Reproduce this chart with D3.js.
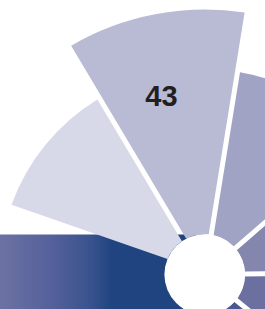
<!DOCTYPE html>
<html><head><meta charset="utf-8">
<script src="https://cdn.jsdelivr.net/npm/d3@7"></script>
<style>html,body{margin:0;padding:0;background:#fff;overflow:hidden}svg{display:block}</style>
</head><body>
<svg id="c" width="265" height="309"></svg>
<script>
// Data (visible sectors of a radial bar chart, clockwise from the top-right)
const categories = ["S1", "S2", "S3", "S4", "S5", "S6", "S7", "S8", "S9"];
const slotOrder  = ["S3", "S4", "S5", "S6", "S7", "S8", "S9", "S1", "S2"]; // clockwise starting just past 12 o'clock
const values     = [31.6, 43, 31.6, 40, 40, 40];          // S1..S6 (S4-S6 extend beyond the frame)
const shown      = ["S1", "S2", "S3", "S4", "S5", "S6"];
const colors     = ["#d8d9e8", "#b9bad3", "#a0a3c3", "#8586ae", "#6b70a0", "#4b5792"];
const labels     = ["", "43", "", "", "", ""];

const W = 265, H = 309;
const cx = 204.7, cy = 274.6, hole = 40.3;
const svg = d3.select("#c");

// gradient banner behind the chart
const defs = svg.append("defs");
const grad = defs.append("linearGradient").attr("id", "band")
  .attr("gradientUnits", "userSpaceOnUse").attr("x1", 0).attr("x2", 112).attr("y1", 0).attr("y2", 0);
[[0, "#6c72a3"], [0.45, "#55619b"], [0.8, "#3a538e"], [1, "#1f4480"]].forEach(s =>
  grad.append("stop").attr("offset", s[0]).attr("stop-color", s[1]));
svg.append("rect").attr("x", 0).attr("y", 234.5).attr("width", cx).attr("height", H - 234.5 + 5)
  .attr("fill", "url(#band)");

const deg = Math.PI / 180;
const offset = 9.2 * deg;
const angle = d3.scaleBand().domain(slotOrder).range([offset, offset + 2 * Math.PI]).padding(0);
const r = d3.scaleLinear().domain([0, 43]).range([hole, 265]);

const arc = d3.arc()
  .innerRadius(hole)
  .outerRadius(d => r(d.v))
  .startAngle(d => angle(d.c))
  .endAngle(d => angle(d.c) + angle.bandwidth())
  .padAngle(0.05).padRadius(100);

const data = shown.map((c, i) => ({c, v: values[i], col: colors[i], lab: labels[i]}));
const g = svg.append("g").attr("transform", `translate(${cx},${cy})`);
g.selectAll("path.s").data(data).join("path").attr("class", "s")
  .attr("d", arc).attr("fill", d => d.col);

g.selectAll("text.l").data(data.filter(d => d.lab)).join("text").attr("class", "l")
  .each(function(d) {
    const a = angle(d.c) + angle.bandwidth() * 0.43;
    const rr = 184;
    d3.select(this).attr("x", rr * Math.sin(a)).attr("y", -rr * Math.cos(a));
  })
  .attr("text-anchor", "middle").attr("dominant-baseline", "central")
  .attr("font-family", "Liberation Sans, Arial, sans-serif").attr("font-weight", "bold")
  .attr("font-size", 29).attr("fill", "#231f20").text(d => d.lab);

svg.append("circle").attr("cx", cx).attr("cy", cy).attr("r", hole).attr("fill", "#fff");
</script>
</body></html>
